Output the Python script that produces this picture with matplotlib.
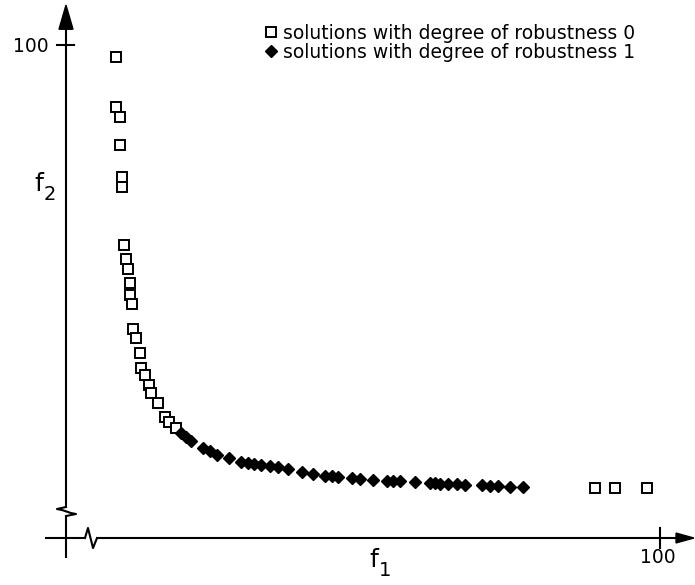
import numpy as np
import matplotlib
matplotlib.use('Agg')
import matplotlib.pyplot as plt

# solutions with degree of robustness 0 (open squares)
f1_rob0 = [8.4, 8.4, 9.1, 9.1, 9.4, 9.4, 9.8, 10.1, 10.4, 10.8, 10.8, 11.1,
           11.3, 11.8, 12.5, 12.6, 13.3, 14.0, 14.3, 15.5, 16.7, 17.3, 18.5,
           89.1, 92.4, 97.8]
f2_rob0 = [97.6, 87.4, 85.4, 79.7, 73.2, 71.2, 59.4, 56.6, 54.6, 51.7, 49.3, 47.5,
           42.4, 40.6, 37.5, 34.5, 33.1, 31.0, 29.4, 27.4, 24.5, 23.5, 22.3,
           10.1, 10.1, 10.1]

# solutions with degree of robustness 1 (filled diamonds)
f1_rob1 = [19.4, 20.2, 21.0, 23.1, 24.2, 25.4, 27.4, 29.5, 30.6, 31.7, 32.8,
           34.3, 35.7, 37.4, 39.7, 41.6, 43.6, 44.8, 45.8, 48.2, 49.5, 51.7,
           54.0, 55.1, 56.2, 58.8, 61.3, 62.1, 63.0, 64.3, 65.8, 67.2, 70.0,
           71.4, 72.7, 74.8, 76.9]
f2_rob1 = [21.3, 20.5, 19.7, 18.3, 17.7, 16.8, 16.2, 15.4, 15.2, 15.0, 14.8,
           14.6, 14.4, 14.0, 13.4, 13.0, 12.6, 12.6, 12.4, 12.2, 12.0, 11.8,
           11.6, 11.6, 11.6, 11.4, 11.2, 11.2, 11.0, 11.0, 11.0, 10.8, 10.8,
           10.6, 10.6, 10.3, 10.3]

labels = ['solutions with degree of robustness 0',
          'solutions with degree of robustness 1']
tick_value = 100

plt.rcParams['font.family'] = ['DejaVu Sans']

fig = plt.figure(figsize=(6.95, 5.85), dpi=100)
ax = fig.add_axes([0, 0, 1, 1])
ax.set_xlim(-11.11, 105.89)
ax.set_ylim(-9.53, 109.13)
ax.axis('off')

lw = 1.5
k = 'black'

# y axis with break
ax.plot([0, 0], [-4.1, 4.46], color=k, lw=lw, solid_capstyle='butt')
ax.plot([0, -1.52, -0.67, 0.84, 1.68, 0], [6.29, 5.88, 5.68, 5.07, 4.87, 4.46],
        color=k, lw=lw)
ax.plot([0, 0], [6.29, 103.6], color=k, lw=lw, solid_capstyle='butt')
ax.fill([-1.18, 1.18, 0], [103.2, 103.2, 108.1], color=k)
ax.plot([-1.52, 1.35], [tick_value, tick_value], color=k, lw=lw)

# x axis with break
ax.plot([-3.54, 3.2], [0, 0], color=k, lw=lw, solid_capstyle='butt')
ax.plot([3.2, 3.7, 4.55, 5.22], [0, 2.03, -2.03, 0], color=k, lw=lw)
ax.plot([5.22, 103.0], [0, 0], color=k, lw=lw, solid_capstyle='butt')
ax.fill([102.7, 102.7, 105.7], [-1.0, 1.0, 0], color=k)
ax.plot([tick_value, tick_value], [-2.0, 2.0], color=k, lw=lw)

# tick labels
ax.text(-3.0, tick_value - 0.3, str(tick_value), ha='right', va='center', fontsize=13.5)
ax.text(tick_value - 0.4, -3.9, str(tick_value), ha='center', va='center', fontsize=13.5)

# axis labels
ax.text(51.0, -5.9, 'f', ha='left', va='baseline', fontsize=18)
ax.text(52.6, -7.7, '1', ha='left', va='baseline', fontsize=14)
ax.text(-5.4, 70.4, 'f', ha='left', va='baseline', fontsize=18)
ax.text(-3.7, 68.6, '2', ha='left', va='baseline', fontsize=14)

# data
ax.plot(f1_rob0, f2_rob0, linestyle='none', marker='s', markersize=6.6,
        markerfacecolor='white', markeredgecolor=k, markeredgewidth=1.4,
        label=labels[0])
ax.plot(f1_rob1, f2_rob1, linestyle='none', marker='D', markersize=5.8,
        markerfacecolor=k, markeredgecolor=k, markeredgewidth=1.0,
        label=labels[1])

fs = 13.5
ax.legend(loc='upper left', bbox_to_anchor=(264 / 695, 1 - 24 / 585),
          frameon=False, fontsize=fs, handlelength=0.75, handletextpad=0.25,
          borderpad=0, borderaxespad=0, labelspacing=0.0, numpoints=1)

fig.savefig('out.png', dpi=100)
